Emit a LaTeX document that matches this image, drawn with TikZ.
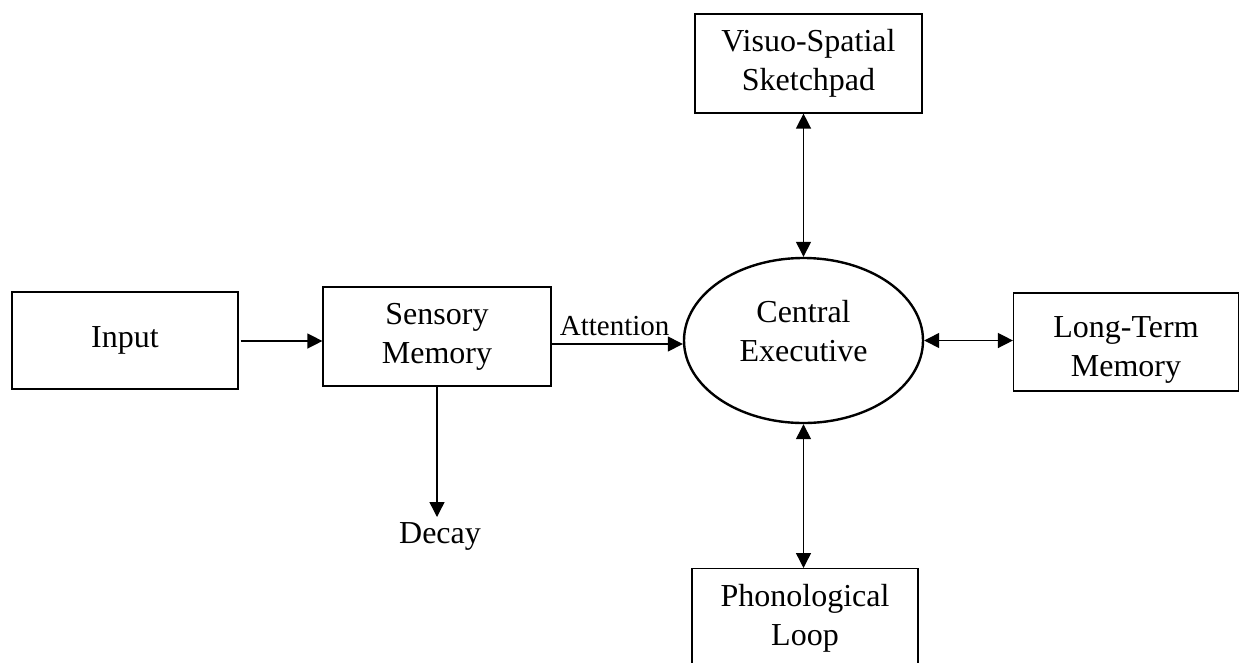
\documentclass[tikz,border=0pt]{standalone}
\usepackage{fontspec}
\setmainfont{Liberation Serif}
\usetikzlibrary{arrows.meta,shapes.geometric}
\begin{document}
\begin{tikzpicture}[x=1pt,y=-1pt,
  boxnode/.style={draw,line width=1.2pt,rectangle,align=center,inner sep=0pt,
    font=\fontsize{32}{39}\selectfont},
  ellnode/.style={draw,line width=2.4pt,ellipse,inner sep=0pt},
  txt/.style={align=center,inner sep=0pt,font=\fontsize{32}{39}\selectfont},
  arr/.style={line width=1.4pt,-{Triangle[length=15pt,width=15pt]}},
  darr/.style={line width=1.4pt,{Triangle[length=15pt,width=15pt]}-{Triangle[length=15pt,width=15pt]}}
]
\useasboundingbox (0,0) rectangle (1239,662);
\clip (0,0) rectangle (1239,662);
\node[boxnode,minimum width=226pt,minimum height=97pt] (input) at (125,340.5) {Input};
\node[boxnode,minimum width=228pt,minimum height=99pt] (sensory) at (437,336.5) {Sensory\\Memory};
\node[ellnode,minimum width=239pt,minimum height=165pt] (ce) at (803.5,340.5) {};
\node[txt] (cetext) at ([yshift=9pt]ce.center) {Central\\Executive};
\node[boxnode,minimum width=227pt,minimum height=99pt] (vs) at (808.5,63.5) {Visuo-Spatial\\Sketchpad};
\node[boxnode,minimum width=225pt,minimum height=98pt] (ltm) at (1126,342) {};
\node[txt] (ltmtext) at ([yshift=-8pt]ltm.center) {Long-Term\\Memory};
\node[boxnode,minimum width=226pt,minimum height=98pt,anchor=north] (pl) at (805,568) {\\[-16pt]Phonological\\Loop};
\node[txt,anchor=north] (decay) at (440,522) {Decay};

\draw[arr] ([xshift=2pt]input.east |- 0,341) -- (sensory.west |- 0,341);
\draw[arr] ([yshift=-7.5pt]sensory.east) -- ([yshift=-7.5pt]sensory.east -| ce.west)
  node[pos=0.48,above=8pt,inner sep=0pt,font=\fontsize{29}{35}\selectfont] (att) {Attention};
\draw[darr] (ce.east) -- (ce.east -| ltm.west);
\draw[darr] (ce.north |- vs.south) -- (ce.north);
\draw[darr] (ce.south) -- (ce.south |- pl.north);
\draw[arr] (sensory.south) -- ([yshift=5pt]sensory.south |- decay.north);
\end{tikzpicture}
\end{document}
